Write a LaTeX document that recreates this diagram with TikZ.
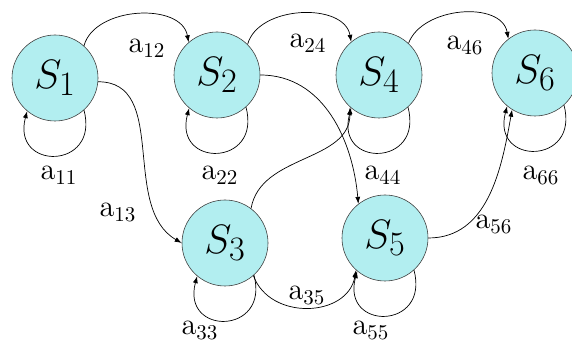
\documentclass[tikz,border=0pt]{standalone}
\usepackage{amsmath}
\usepackage{graphicx}
\usepackage{xcolor}
\usepackage{tikz}
\usetikzlibrary{arrows.meta}
\definecolor{statefill}{RGB}{178,238,240}
\newcommand{\bigtxt}[2]{\scalebox{#1}{#2}}

\begin{document}
\begin{tikzpicture}[
  x=1pt, y=1pt,
  state/.style={circle, minimum size=86pt, inner sep=0pt, fill=statefill,
    draw=black!75, line width=0.6pt, font=\Huge},
  lbl/.style={font=\Large, inner sep=0pt},
  arc/.style={line width=0.7pt, -{Latex[length=7pt,width=5pt]}}
]
\useasboundingbox (0,0) rectangle (572,342);
% States
\foreach \n/\x/\y in {1/55/264, 2/217/267, 3/225/99, 4/379/267, 5/385/104, 6/535/269}
  \node[state] (s\n) at (\x,\y) {\bigtxt{1.65}{$S_{\n}$}};
% Transition labels
\foreach \ij/\x/\y in {11/59/167, 12/147/294, 13/118/130, 22/220/167, 24/308/299,
  33/200/12, 35/307/47, 44/383/167, 46/465/297, 55/371/12, 56/494/118, 66/541/167}
  \node[lbl] (a\ij) at (\x,\y) {\bigtxt{2.1}{a$_{\ij}$}};
% Self loops
\foreach \n in {1,...,6}
  \draw[arc] (s\n.-48) to[out=-75,in=-105,distance=62pt] (s\n.-130);
% Transitions
\draw[arc] (s1.48) to[out=75,in=100] (s2.131);
\draw[arc] (s2.45) to[out=75,in=100] (s4.130);
\draw[arc] (s4.47) to[out=70,in=100] (s6.128);
\draw[arc] (s1.-5) to[out=0,in=150] (s3.180);
\draw[arc] (s2.0) to[out=0,in=95] (s5.128);
\draw[arc] (s3.53) to[out=80,in=-90] (s4.-132);
\draw[arc] (s3.-49) to[out=-70,in=-100,looseness=1.2] (s5.-132);
\draw[arc] (s5.0) to[out=0,in=-100] (s6.-122);
\end{tikzpicture}
\end{document}
